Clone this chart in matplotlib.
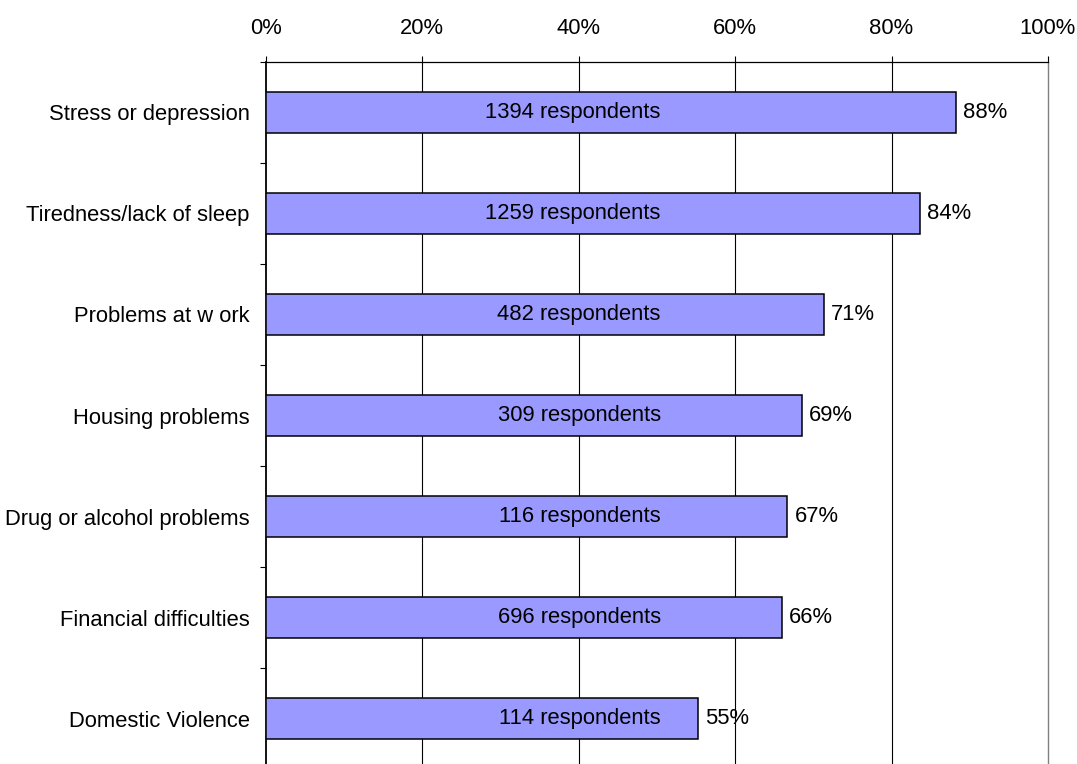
import matplotlib
matplotlib.use("Agg")
import matplotlib.pyplot as plt
import numpy as np

categories = ["Stress or depression", "Tiredness/lack of sleep", "Problems at w ork",
              "Housing problems", "Drug or alcohol problems", "Financial difficulties",
              "Domestic Violence"]
shares = [0.8825, 0.8365, 0.714, 0.686, 0.667, 0.660, 0.553]
pct_labels = ["88%", "84%", "71%", "69%", "67%", "66%", "55%"]
respondents = [1394, 1259, 482, 309, 116, 696, 114]
xticks = [0, 0.2, 0.4, 0.6, 0.8, 1.0]
xtick_labels = ["0%", "20%", "40%", "60%", "80%", "100%"]

plt.rcParams["font.family"] = ["Liberation Sans", "DejaVu Sans"]
FS = 15.8

fig = plt.figure(figsize=(10.77, 7.64), dpi=100)
W, H = 1077, 764
left, right, top = 265.7, 1048, 61.7
step = 101.1
bottom = top + step * len(categories)
ax = fig.add_axes([left / W, 1 - bottom / H, (right - left) / W, (bottom - top) / H])

y = np.arange(len(categories))
ax.barh(y, shares, height=0.405, color="#9999FF", edgecolor="black", linewidth=1.1, zorder=3)

for yi, s, p, r in zip(y, shares, pct_labels, respondents):
    ax.annotate(p, (s, yi), xytext=(5, 0), textcoords="offset points",
                ha="left", va="center", fontsize=FS, zorder=4)
    ax.text(0.505, yi, f"{r} respondents", ha="right", va="center", fontsize=FS, zorder=4)

ax.set_xlim(0, 1)
ax.set_ylim(len(categories) - 0.5, -0.5)

ax.xaxis.tick_top()
ax.set_xticks(xticks)
ax.set_xticklabels(xtick_labels, fontsize=FS)
ax.tick_params(axis="x", direction="out", length=4, width=0.8, pad=12, colors="black")

ax.set_yticks(y)
ax.set_yticklabels(categories, fontsize=FS)
ax.tick_params(axis="y", which="major", length=0, pad=11.5)
ax.set_yticks(np.arange(-0.5, len(categories)), minor=True)
ax.tick_params(axis="y", which="minor", direction="out", length=4, width=0.8)

for xv in xticks[1:-1]:
    ax.axvline(xv, color="black", lw=0.8, zorder=1)

ax.spines["left"].set_linewidth(1.3)
ax.spines["top"].set_linewidth(0.9)
ax.spines["right"].set_color("#808080")
ax.spines["right"].set_linewidth(1.0)
ax.spines["bottom"].set_visible(False)

fig.savefig("out.png", dpi=100)
